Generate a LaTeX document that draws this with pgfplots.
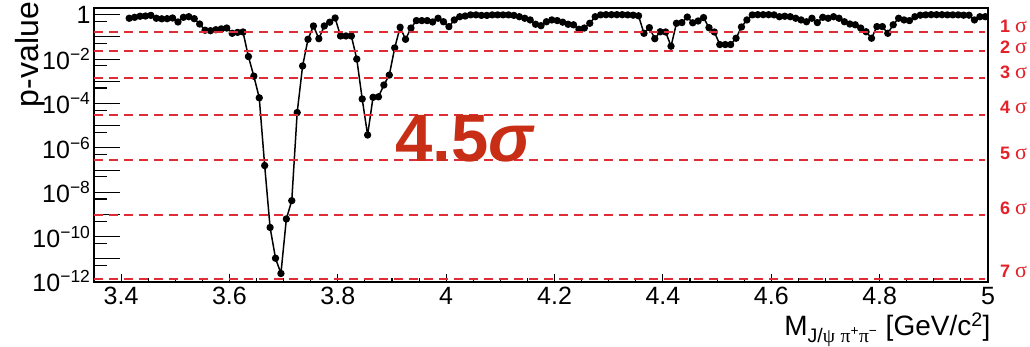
\documentclass[border=0pt]{standalone}
\usepackage{fontspec}
\setmainfont{Liberation Sans}
\newfontfamily\seriffont{Liberation Serif}
\usepackage{pgfplots}
\pgfplotsset{compat=1.18}
\usepackage{pgfplotstable}

\definecolor{sigline}{RGB}{222,45,55}
\definecolor{siglabel}{RGB}{228,32,40}
\definecolor{signif}{RGB}{200,46,22}

% local p-value scan versus M(J/psi pi+ pi-) in 10 MeV steps
\pgfplotstableread{
m p
3.415 0.69
3.425 0.76
3.435 0.85
3.445 0.87
3.455 0.93
3.465 0.69
3.475 0.65
3.485 0.66
3.495 0.71
3.505 0.47
3.515 0.76
3.525 0.81
3.535 0.66
3.545 0.38
3.555 0.20
3.565 0.19
3.575 0.21
3.585 0.23
3.595 0.25
3.605 0.145
3.615 0.16
3.625 0.166
3.635 0.013
3.645 0.0017
3.655 1.8e-4
3.665 1.6e-7
3.675 2.6e-10
3.685 1.07e-11
3.695 2.2e-12
3.705 6.3e-10
3.715 4.2e-9
3.725 3.9e-5
3.735 0.0049
3.745 0.078
3.755 0.31
3.765 0.083
3.775 0.31
3.785 0.46
3.795 0.71
3.805 0.11
3.815 0.11
3.825 0.11
3.835 0.010
3.845 1.6e-4
3.855 3.8e-6
3.865 1.9e-4
3.875 2.0e-4
3.885 6.8e-4
3.895 0.0019
3.905 0.032
3.915 0.27
3.925 0.078
3.935 0.25
3.945 0.54
3.955 0.54
3.965 0.54
3.975 0.47
3.985 0.69
3.995 0.48
4.005 0.29
4.015 0.58
4.025 0.81
4.035 0.87
4.045 0.98
4.055 0.98
4.065 0.93
4.075 0.93
4.085 0.98
4.095 0.98
4.105 0.98
4.115 0.98
4.125 0.93
4.135 0.81
4.145 0.69
4.155 0.58
4.165 0.37
4.175 0.32
4.185 0.48
4.195 0.58
4.205 0.54
4.215 0.46
4.225 0.37
4.235 0.35
4.245 0.22
4.255 0.25
4.265 0.41
4.275 0.81
4.285 0.98
4.295 1.0
4.305 1.0
4.315 1.0
4.325 1.0
4.335 0.98
4.345 0.95
4.355 0.89
4.365 0.145
4.375 0.26
4.385 0.083
4.395 0.17
4.405 0.166
4.415 0.038
4.425 0.41
4.435 0.44
4.445 0.78
4.455 0.43
4.465 0.52
4.475 0.74
4.485 0.26
4.495 0.166
4.505 0.045
4.515 0.045
4.525 0.045
4.535 0.087
4.545 0.28
4.555 0.58
4.565 0.98
4.575 1.0
4.585 1.0
4.595 1.0
4.605 0.98
4.615 0.81
4.625 0.85
4.635 0.81
4.645 0.69
4.655 0.58
4.665 0.48
4.675 0.69
4.685 0.44
4.695 0.76
4.705 0.69
4.715 0.81
4.725 0.69
4.735 0.48
4.745 0.38
4.755 0.35
4.765 0.25
4.775 0.17
4.785 0.087
4.795 0.29
4.805 0.29
4.815 0.145
4.825 0.35
4.835 0.69
4.845 0.58
4.855 0.54
4.865 0.81
4.875 0.95
4.885 0.98
4.895 1.0
4.905 1.0
4.915 1.0
4.925 0.98
4.935 0.98
4.945 0.98
4.955 0.95
4.965 0.95
4.975 0.58
4.985 0.81
4.995 0.81
}\pvalues

\begin{document}
\begin{tikzpicture}[x=1pt,y=1pt]
\useasboundingbox (0,0) rectangle (1030,347);

% x ticks and labels (short ticks along the bottom edge)
\begin{axis}[
  at={(94pt,65pt)}, anchor=south west,
  width=894pt, height=274pt, scale only axis,
  xmin=3.35, xmax=5.0,
  ymode=log, ymin=9.1e-13, ymax=2,
  axis line style={line width=1.2pt},
  tick align=inside,
  tick style={line width=1.1pt, black},
  ytick=\empty,
  xtick pos=bottom,
  xtick={3.4,3.6,3.8,4,4.2,4.4,4.6,4.8,5},
  xticklabels={3.4,3.6,3.8,4,4.2,4.4,4.6,4.8,5},
  minor xtick={3.45,3.5,3.55,3.65,3.7,3.75,3.85,3.9,3.95,4.05,4.1,4.15,4.25,4.3,4.35,4.45,4.5,4.55,4.65,4.7,4.75,4.85,4.9,4.95},
  major tick length=8pt, minor tick length=4pt,
  xticklabel style={font=\fontsize{25}{25}\selectfont, inner sep=2pt, yshift=-3pt},
]
\addplot[draw=none, forget plot] coordinates {(4,1e-3)};
\end{axis}

% y axis, data and significance thresholds
\begin{axis}[
  at={(94pt,65pt)}, anchor=south west,
  width=894pt, height=274pt, scale only axis,
  xmin=3.35, xmax=5.0,
  ymode=log, ymin=9.1e-13, ymax=2,
  axis line style={line width=1.2pt},
  tick align=inside,
  tick style={line width=1.1pt, black},
  clip mode=individual,
  xtick=\empty,
  ytick pos=left,
  ytick={1e-12,1e-11,1e-10,1e-9,1e-8,1e-7,1e-6,1e-5,1e-4,1e-3,1e-2,1e-1,1},
  yticklabels={10\textsuperscript{−12},{},10\textsuperscript{−10},{},10\textsuperscript{−8},{},10\textsuperscript{−6},{},10\textsuperscript{−4},{},10\textsuperscript{−2},{},1},
  minor ytick={5e-12,5e-11,5e-10,5e-9,5e-8,5e-7,5e-6,5e-5,5e-4,5e-3,5e-2,5e-1},
  major tick length=26pt, minor tick length=13pt,
  yticklabel style={font=\fontsize{25}{25}\selectfont},
]
\addplot[black, line width=1.5pt, line join=round, mark=*, mark size=2.9pt,
  mark options={solid, fill=black}] table[x=m, y=p] {\pvalues};

% one-sided p-values of the 1 to 7 sigma thresholds
\addplot[sigline, line width=1.9pt, dash pattern=on 9pt off 6pt, forget plot] coordinates {(3.35,0.1587) (4.995,0.1587)};
\addplot[sigline, line width=1.9pt, dash pattern=on 9pt off 6pt, forget plot] coordinates {(3.35,0.02275) (4.995,0.02275)};
\addplot[sigline, line width=1.9pt, dash pattern=on 9pt off 6pt, forget plot] coordinates {(3.35,0.00135) (4.995,0.00135)};
\addplot[sigline, line width=1.9pt, dash pattern=on 9pt off 6pt, forget plot] coordinates {(3.35,3.167e-5) (4.995,3.167e-5)};
\addplot[sigline, line width=1.9pt, dash pattern=on 9pt off 6pt, forget plot] coordinates {(3.35,2.867e-7) (4.995,2.867e-7)};
\addplot[sigline, line width=1.9pt, dash pattern=on 9pt off 6pt, forget plot] coordinates {(3.35,9.866e-10) (4.995,9.866e-10)};
\addplot[sigline, line width=1.9pt, dash pattern=on 9pt off 6pt, forget plot] coordinates {(3.35,1.280e-12) (4.995,1.280e-12)};

\node[anchor=west, text=siglabel, inner sep=0pt, font=\fontsize{18}{18}\selectfont] at (axis cs:5.0,0.1587) [xshift=12pt, yshift=6pt] {\textbf{1}\hspace{5pt}{\seriffont\fontsize{22}{22}\selectfont σ}};
\node[anchor=west, text=siglabel, inner sep=0pt, font=\fontsize{18}{18}\selectfont] at (axis cs:5.0,0.02275) [xshift=12pt, yshift=4pt] {\textbf{2}\hspace{5pt}{\seriffont\fontsize{22}{22}\selectfont σ}};
\node[anchor=west, text=siglabel, inner sep=0pt, font=\fontsize{18}{18}\selectfont] at (axis cs:5.0,0.00135) [xshift=12pt, yshift=6pt] {\textbf{3}\hspace{5pt}{\seriffont\fontsize{22}{22}\selectfont σ}};
\node[anchor=west, text=siglabel, inner sep=0pt, font=\fontsize{18}{18}\selectfont] at (axis cs:5.0,3.167e-5) [xshift=12pt, yshift=7pt] {\textbf{4}\hspace{5pt}{\seriffont\fontsize{22}{22}\selectfont σ}};
\node[anchor=west, text=siglabel, inner sep=0pt, font=\fontsize{18}{18}\selectfont] at (axis cs:5.0,2.867e-7) [xshift=12pt, yshift=6.5pt] {\textbf{5}\hspace{5pt}{\seriffont\fontsize{22}{22}\selectfont σ}};
\node[anchor=west, text=siglabel, inner sep=0pt, font=\fontsize{18}{18}\selectfont] at (axis cs:5.0,9.866e-10) [xshift=12pt, yshift=6.5pt] {\textbf{6}\hspace{5pt}{\seriffont\fontsize{22}{22}\selectfont σ}};
\node[anchor=west, text=siglabel, inner sep=0pt, font=\fontsize{18}{18}\selectfont] at (axis cs:5.0,1.280e-12) [xshift=12pt, yshift=7pt] {\textbf{7}\hspace{5pt}{\seriffont\fontsize{22}{22}\selectfont σ}};

\node[text=signif, inner sep=0pt, font=\fontsize{67}{67}\selectfont\bfseries]
  at (axis cs:4.035,2.5e-6) {4.5\textit{σ}};

\node[rotate=90, anchor=east, inner sep=0pt, font=\fontsize{32}{32}\selectfont]
  at (rel axis cs:-0.071,1.022) {p-value};

\node[anchor=base east, inner sep=0pt, font=\fontsize{28}{28}\selectfont]
  at (rel axis cs:1.003,0) [yshift=-54pt]
  {M\textsubscript{J/{\seriffont ψ} {\seriffont π}\textsuperscript{+}{\seriffont π}\textsuperscript{−}} [GeV/c\textsuperscript{2}]};
\end{axis}
\end{tikzpicture}
\end{document}
